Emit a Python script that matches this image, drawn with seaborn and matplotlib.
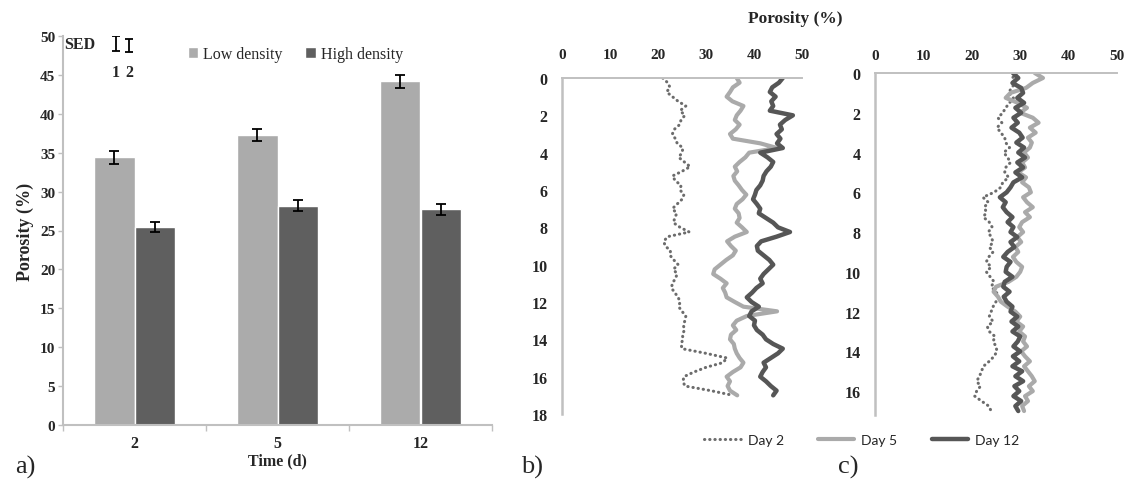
import numpy as np
import pandas as pd
import matplotlib
matplotlib.use("Agg")
import matplotlib.pyplot as plt
from matplotlib.lines import Line2D
import seaborn as sns

sns.set_style("white")
plt.rcParams["font.family"] = ["Liberation Serif", "DejaVu Serif"]

# ---------------- a) mean porosity per density treatment ----------------
time_days = ["2", "5", "12"]
density_groups = ["Low density", "High density"]
porosity_low = [34.4, 37.3, 44.2]
porosity_high = [25.5, 28.2, 27.7]
err_low = [0.85, 0.8, 0.85]
err_high = [0.65, 0.7, 0.65]
sed_labels = ["1", "2"]
sed_half = [0.95, 0.85]

# ---------------- b), c) porosity depth profiles ----------------
depth_cm = np.linspace(0, 17, 69)
days = ["Day 2", "Day 5", "Day 12"]

low_day2 = [21.0, 22.0, 22.5, 21.8, 23.0, 24.2, 25.8, 24.6, 25.6, 24.8, 24.5, 23.4,
            23.0, 23.6, 24.0, 25.2, 25.0, 24.3, 25.5, 26.7, 25.0, 23.0, 23.6, 24.8,
            24.6, 25.4, 25.0, 24.0, 23.0, 23.9, 23.5, 23.2, 24.6, 26.5, 22.0, 21.2,
            21.5, 22.6, 22.5, 23.3, 24.2, 23.2, 24.0, 23.6, 23.0, 22.8, 23.5, 24.2,
            24.6, 24.3, 25.0, 25.8, 25.6, 25.3, 25.5, 25.1, 25.2, 24.8, 25.0, 30.0,
            34.4, 33.5, 30.0, 27.5, 25.4, 25.2, 25.6, 31.0, 35.6]
low_day5 = [36.4, 37.0, 35.6, 35.0, 34.3, 35.5, 37.8, 37.2, 36.4, 36.0, 37.0, 36.2,
            35.0, 35.6, 41.3, 44.8, 39.0, 38.2, 37.0, 36.0, 36.5, 35.7, 36.0, 36.8,
            37.5, 38.4, 37.6, 36.4, 36.0, 36.8, 37.0, 36.4, 37.5, 38.5, 36.0, 34.4,
            35.2, 36.2, 35.6, 34.2, 33.0, 31.8, 31.5, 33.0, 34.3, 33.5, 34.0, 34.3,
            36.0, 37.8, 44.8, 38.5, 36.4, 35.6, 36.3, 35.2, 35.0, 35.8, 36.0, 36.4,
            37.0, 37.8, 37.2, 35.6, 34.3, 35.0, 34.5, 35.0, 36.5]
low_day12 = [46.0, 45.2, 43.8, 43.3, 44.5, 43.6, 44.0, 43.3, 48.1, 46.5, 45.4, 45.8,
             44.7, 45.5, 44.8, 46.0, 41.3, 42.8, 44.0, 43.5, 42.6, 42.0, 41.8, 41.3,
             40.5, 40.2, 39.8, 40.6, 41.3, 41.0, 42.5, 44.0, 45.0, 47.5, 44.7, 41.5,
             40.6, 40.8, 42.0, 43.2, 44.0, 43.0, 42.0, 41.3, 41.8, 40.5, 39.6, 38.5,
             39.5, 41.0, 39.5, 39.0, 40.2, 40.0, 40.6, 41.8, 42.5, 44.0, 46.0, 45.0,
             43.5, 42.0, 42.5, 41.8, 41.3, 42.5, 43.5, 44.7, 44.0]

high_day2 = [29.2, 28.4, 29.0, 28.2, 27.6, 28.6, 27.8, 27.0, 26.4, 25.4, 26.2, 25.2,
             26.0, 26.8, 27.0, 27.8, 26.6, 27.4, 28.0, 27.0, 26.8, 27.6, 26.4, 26.0,
             24.6, 22.3, 23.4, 22.6, 23.0, 22.4, 23.6, 24.2, 23.4, 24.0, 24.4, 23.6,
             24.4, 23.5, 23.0, 24.0, 23.0, 23.8, 24.6, 24.0, 25.0, 25.6, 25.0, 24.4,
             24.0, 23.6, 24.4, 23.2, 23.6, 24.8, 24.4, 25.0, 25.2, 24.6, 23.6, 22.4,
             22.0, 21.6, 21.0, 21.8, 21.0, 20.6, 22.0, 23.5, 24.0]
high_day5 = [33.0, 34.7, 32.6, 31.2, 28.0, 27.0, 29.5, 31.4, 30.0, 32.6, 33.8, 32.0,
             33.2, 31.6, 32.4, 32.0, 30.8, 31.6, 30.4, 31.0, 29.6, 31.2, 30.4, 31.8,
             32.2, 30.6, 31.4, 32.6, 31.0, 32.0, 30.4, 29.8, 30.6, 29.4, 30.2, 29.0,
             29.6, 28.5, 29.2, 30.4, 30.0, 29.2, 27.6, 25.0, 24.5, 25.4, 26.0, 27.4,
             29.0, 30.0, 29.2, 30.6, 29.8, 31.0, 30.6, 31.4, 30.2, 31.0, 32.0, 30.8,
             31.6, 32.4, 33.0, 31.8, 32.6, 31.0, 31.6, 30.4, 30.8]
high_day12 = [28.5, 29.6, 28.4, 30.2, 30.6, 29.4, 30.8, 29.0, 30.2, 28.6, 29.5, 28.2,
              29.8, 30.5, 29.2, 30.8, 29.6, 31.0, 29.4, 30.6, 29.0, 30.4, 28.6, 28.0,
              27.2, 25.8, 27.0, 26.4, 27.2, 28.4, 27.4, 28.6, 28.0, 29.4, 28.0, 28.8,
              27.4, 26.5, 28.0, 27.2, 27.0, 28.4, 26.8, 26.5, 27.8, 26.6, 27.2, 28.4,
              28.0, 29.4, 28.2, 29.6, 28.4, 30.0, 29.5, 28.6, 30.0, 28.5, 29.8, 28.4,
              30.4, 29.0, 30.6, 28.8, 29.8, 28.6, 30.2, 29.0, 29.6]

bar_colors = ["#ababab", "#5f5f5f"]
line_styles = {
    "Day 2": dict(color="#6c6c6c", linewidth=2.2, linestyle=(0, (0.1, 1.6)),
                  dash_capstyle="round"),
    "Day 5": dict(color="#aaaaaa", linewidth=3.0, linestyle="-"),
    "Day 12": dict(color="#565656", linewidth=3.2, linestyle="-"),
}
spine_grey = "#c0c0c0"

W, H = 1136, 481
fig = plt.figure(figsize=(W / 100, H / 100), dpi=100)


def frac(left, top, right, bottom):
    return [left / W, 1 - bottom / H, (right - left) / W, (bottom - top) / H]


# ---------------- panel a ----------------
ax_a = fig.add_axes(frac(63, 37, 492, 426))
df_bar = pd.DataFrame({
    "Time": time_days * 2,
    "Density": [density_groups[0]] * 3 + [density_groups[1]] * 3,
    "Porosity": porosity_low + porosity_high,
})
sns.barplot(data=df_bar, x="Time", y="Porosity", hue="Density", order=time_days,
            hue_order=density_groups, palette=bar_colors, width=0.56,
            errorbar=None, saturation=1, ax=ax_a)
for container, errs in zip(ax_a.containers, [err_low, err_high]):
    for bar, e in zip(container, errs):
        ax_a.errorbar(bar.get_x() + bar.get_width() / 2, bar.get_height(), yerr=e,
                      color="black", capsize=3.5, elinewidth=1.3, capthick=1.3)

ax_a.set_ylim(0, 50)
ax_a.set_xlim(-0.5, 2.5)
ax_a.set_yticks(range(0, 51, 5))
ax_a.set_xticks([0, 1, 2])
ax_a.set_xticks([-0.5, 0.5, 1.5, 2.5], minor=True)
ax_a.tick_params(axis="y", left=True, length=3.5, width=1, color=spine_grey,
                 pad=2, labelsize=11)
ax_a.tick_params(axis="x", which="major", bottom=False, length=0, pad=7, labelsize=11.5)
ax_a.tick_params(axis="x", which="minor", bottom=True, length=4, width=1,
                 color=spine_grey)
for lbl in ax_a.get_xticklabels() + ax_a.get_yticklabels():
    lbl.set_fontweight("bold")
ax_a.set_ylabel("Porosity (%)", fontsize=13, fontweight="bold", labelpad=4)
ax_a.set_xlabel("Time (d)", fontsize=11.5, fontweight="bold", labelpad=1)
for side in ["top", "right"]:
    ax_a.spines[side].set_visible(False)
for side in ["left", "bottom"]:
    ax_a.spines[side].set_color(spine_grey)
    ax_a.spines[side].set_linewidth(1.5)

# standard error of difference bars
ax_a.text(-0.49, 49.0, "SED", fontsize=11.5, fontweight="bold", va="center", ha="left")
sed_x = [-0.13, -0.035]
sed_y = [49.0, 48.8]
for x, y, h, lab in zip(sed_x, sed_y, sed_half, sed_labels):
    ax_a.errorbar(x, y, yerr=h, color="black", capsize=3, elinewidth=1.3, capthick=1.3)
    ax_a.text(x, 45.4, lab, fontsize=11.5, fontweight="bold", ha="center", va="center")

sns.move_legend(ax_a, "center left", bbox_to_anchor=(0.272, 0.953), ncol=2,
                frameon=False, title=None, handlelength=0.65, handleheight=0.65,
                handletextpad=0.3, columnspacing=1.45, fontsize=11.5, borderpad=0)

# ---------------- panels b and c ----------------
def profile_panel(ax, series, ymax, yticks, xpad):
    for day, vals in zip(days, series):
        df = pd.DataFrame({"depth": depth_cm, "porosity": vals})
        sns.lineplot(data=df, x="porosity", y="depth", sort=False, orient="y",
                     estimator=None, ax=ax, **line_styles[day])
    ax.set_xlim(0, 50)
    ax.set_ylim(ymax, 0)
    ax.set_xticks(range(0, 51, 10))
    ax.set_yticks(yticks)
    ax.xaxis.tick_top()
    ax.tick_params(axis="x", top=True, bottom=False, length=0, pad=xpad, labelsize=11)
    ax.tick_params(axis="y", left=True, length=0, pad=10.5, labelsize=11.5)
    for lbl in ax.get_xticklabels() + ax.get_yticklabels():
        lbl.set_fontweight("bold")
    ax.set_xlabel("")
    ax.set_ylabel("")
    for side in ["bottom", "right"]:
        ax.spines[side].set_visible(False)
    ax.spines["top"].set_color(spine_grey)
    ax.spines["top"].set_linewidth(1.4)
    ax.spines["left"].set_color(spine_grey)
    ax.spines["left"].set_linewidth(1.8)


ax_b = fig.add_axes(frac(562, 79, 802, 415))
profile_panel(ax_b, [low_day2, low_day5, low_day12], 18, range(0, 19, 2), 12)

ax_c = fig.add_axes(frac(875, 74, 1117, 416))
profile_panel(ax_c, [high_day2, high_day5, high_day12], 17.2, range(0, 17, 2), 8)

fig.text(795 / W, 1 - 19 / H, "Porosity (%)", fontsize=12.5, fontweight="bold",
         ha="center", va="center")

handles = [Line2D([], [], **line_styles[d]) for d in days]
fig.legend(handles, days, loc="center", bbox_to_anchor=(862 / W, 1 - 441 / H),
           ncol=3, frameon=False, handlelength=2.6, handletextpad=0.5,
           columnspacing=2.5, prop={"family": ["Lato", "DejaVu Sans"], "size": 10})

# panel letters
for x, lab in [(25, "a)"), (532, "b)"), (848, "c)")]:
    fig.text(x / W, 1 - 467 / H, lab, fontsize=19, ha="center", va="center")

fig.savefig("out.png", dpi=100)
